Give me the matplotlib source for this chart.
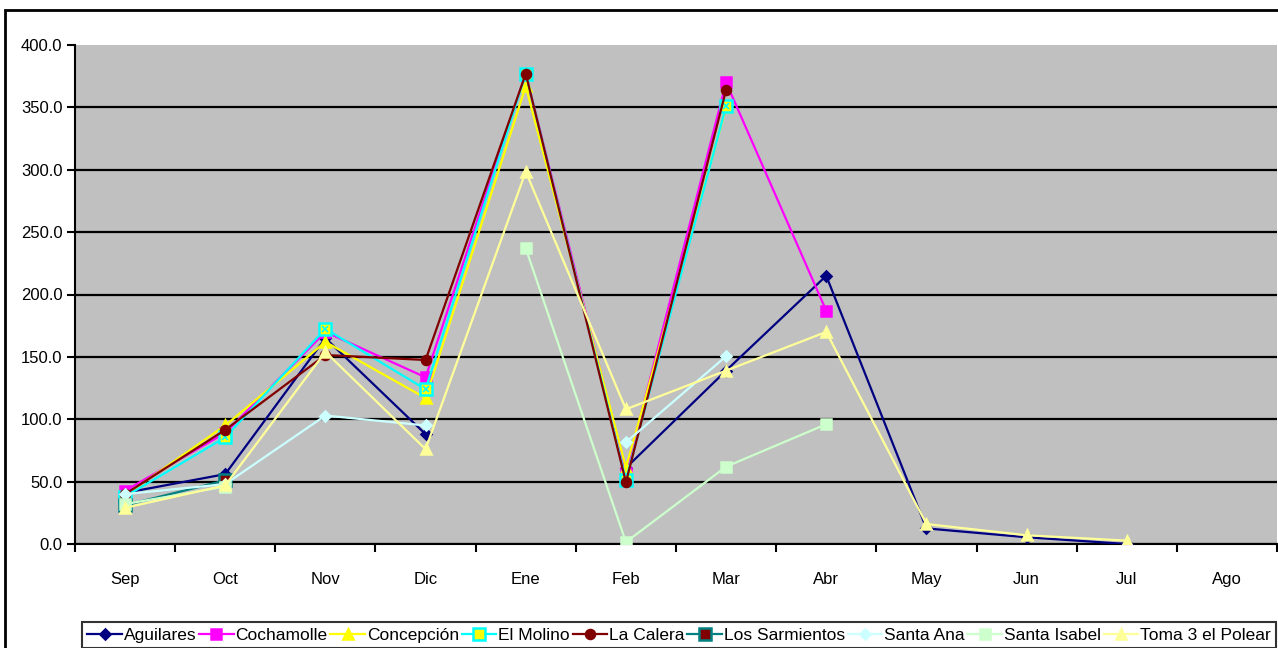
import numpy as np
import matplotlib
matplotlib.use("Agg")
import matplotlib.pyplot as plt
from matplotlib.patches import Rectangle

plt.rcParams['font.family'] = ['Liberation Sans Narrow', 'Liberation Sans', 'DejaVu Sans']

nan = np.nan
months = ['Sep', 'Oct', 'Nov', 'Dic', 'Ene', 'Feb', 'Mar', 'Abr', 'May', 'Jun', 'Jul', 'Ago']

aguilares = [41, 56, 165, 88, nan, 61, 139, 215, 12.5, 5.4, 0, nan]
cochamolle = [42.7, 89, 170, 133.6, 377, 57, 370, 187, nan, nan, nan, nan]
concepcion = [39, 95, 162, 117, 367, 61, 350, nan, nan, nan, nan, nan]
el_molino = [38, 85.5, 172.5, 124, 377, 51.5, 351, nan, nan, nan, nan, nan]
la_calera = [40, 91.5, 151.5, 147.5, 377, 49.5, 364, nan, nan, nan, nan, nan]
los_sarmientos = [31, 51, nan, nan, nan, nan, nan, nan, nan, nan, nan, nan]
santa_ana = [40, 48, 103, 95, nan, 81.5, 150.5, nan, nan, nan, nan, nan]
santa_isabel = [32, 46, nan, nan, 237, 1.5, 62, 96, nan, nan, nan, nan]
toma3 = [29, 47, 154, 76, 298.5, 108, 139, 170, 16, 7, 2.7, nan]

W, H = 1278, 648
fig = plt.figure(figsize=(W / 100, H / 100), dpi=100)
fig.patch.set_facecolor('white')
ax = fig.add_axes([75 / W, 1 - 544 / H, (W - 76) / W, (544 - 45) / H])
ax.set_facecolor('#c0c0c0')

x = np.arange(len(months))

# (label, values, color, marker, facecolor, edgecolor)
series = [
    ('Aguilares', aguilares, '#000080', 'D', '#000080', '#000080'),
    ('Cochamolle', cochamolle, '#ff00ff', 's', '#ff00ff', '#ff00ff'),
    ('Concepción', concepcion, '#ffff00', '^', '#ffff00', '#ffff00'),
    ('El Molino', el_molino, '#00ffff', 's', '#ffff00', '#00ffff'),
    ('La Calera', la_calera, '#800000', 'o', '#800000', '#800000'),
    ('Los Sarmientos', los_sarmientos, '#008080', 's', '#800000', '#008080'),
    ('Santa Ana', santa_ana, '#ccffff', 'D', '#ccffff', '#ccffff'),
    ('Santa Isabel', santa_isabel, '#ccffcc', 's', '#ccffcc', '#ccffcc'),
    ('Toma 3 el Polear', toma3, '#ffff99', '^', '#ffff99', '#ffff99'),
]

handles = []
for i, (lab, vals, col, mk, fc, ec) in enumerate(series):
    ms = {'D': 5.5, 's': 6.5, '^': 7, 'o': 6.5}[mk]
    if lab in ('El Molino', 'Los Sarmientos'):
        ms = 8
    h, = ax.plot(x, vals, color=col, lw=1.6, marker=mk, markersize=ms,
                 markerfacecolor=fc, markeredgecolor=ec, markeredgewidth=1.8,
                 label=lab, zorder=3 + i)
    if lab == 'El Molino':
        ax.plot(x, vals, ls='none', marker='x', markersize=5, color=col,
                markeredgewidth=1.2, zorder=3 + i)
    handles.append(h)

ax.set_xlim(-0.5, len(months) - 0.5)
ax.set_ylim(0, 400)
ax.set_yticks(np.arange(0, 401, 50))
ax.set_yticklabels([f'{v:.1f}' for v in np.arange(0, 401, 50)], fontsize=12)
ax.set_xticks(x)
ax.set_xticklabels(months, fontsize=12)
ax.set_xticks(np.arange(-0.5, len(months), 1), minor=True)
ax.tick_params(axis='x', which='major', length=0, pad=20)
ax.tick_params(axis='x', which='minor', length=6, width=1.5, direction='out')
ax.tick_params(axis='y', length=6, width=1.5, direction='out', pad=3)

ax.yaxis.grid(True, color='black', lw=1.6)
ax.set_axisbelow(True)
ax.get_ygridlines()[-1].set_visible(False)
for s in ['top', 'right']:
    ax.spines[s].set_visible(False)
ax.spines['left'].set_linewidth(1.5)
ax.spines['bottom'].set_linewidth(1.5)

leg = fig.legend(handles=handles, loc='lower left', ncol=9,
                 bbox_to_anchor=(82 / W, 0, (1276 - 82) / W, 29 / H), mode='expand',
                 frameon=True, fancybox=False, edgecolor='black', fontsize=12.5,
                 handlelength=2.0, handletextpad=0.1, columnspacing=0.3,
                 borderpad=0.3, borderaxespad=0)
leg.get_frame().set_linewidth(1.5)

# outer chart frame
fig.add_artist(Rectangle((5 / W, -0.01), (W - 4) / W, 1 - 10 / H + 0.01,
                         transform=fig.transFigure, fill=False, lw=2, ec='black'))

fig.savefig('out.png', dpi=100)
